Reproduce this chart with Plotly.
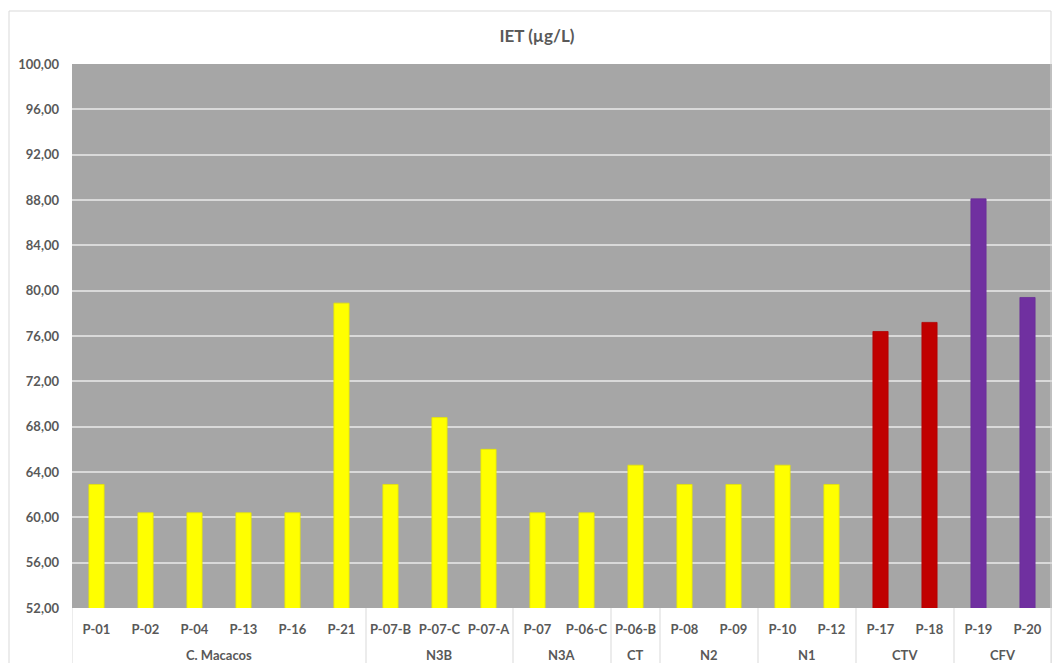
import plotly.graph_objects as go

groups = ["C. Macacos"] * 6 + ["N3B"] * 3 + ["N3A"] * 2 + ["CT"] + ["N2"] * 2 + ["N1"] * 2 + ["CTV"] * 2 + ["CFV"] * 2
points = ["P-01", "P-02", "P-04", "P-13", "P-16", "P-21",
          "P-07-B", "P-07-C", "P-07-A",
          "P-07", "P-06-C",
          "P-06-B",
          "P-08", "P-09",
          "P-10", "P-12",
          "P-17", "P-18",
          "P-19", "P-20"]
values = [62.9, 60.4, 60.4, 60.4, 60.4, 78.9,
          62.9, 68.8, 66.0,
          60.4, 60.4,
          64.6,
          62.9, 62.9,
          64.6, 62.9,
          76.4, 77.2,
          88.1, 79.4]
group_colors = {"CTV": "#C00000", "CFV": "#7030A0"}
default_color = "#FFFF00"
colors = [group_colors.get(g, default_color) for g in groups]
line_colors = [{"#FFFF00": "#E6E600", "#C00000": "#B00000", "#7030A0": "#6A2D98"}[c] for c in colors]

y_ticks = [52, 56, 60, 64, 68, 72, 76, 80, 84, 88, 92, 96, 100]

font_family = "Lato, 'Open Sans', sans-serif"
text_color = "#595959"

fig = go.Figure()
fig.add_trace(go.Bar(
    x=points,
    y=values,
    base=0,
    marker=dict(color=colors, line=dict(color=line_colors, width=0.8)),
    width=0.31,
    hoverinfo="x+y",
))

fig.update_layout(
    width=1052, height=663,
    margin=dict(l=72, r=0, t=64, b=55),
    paper_bgcolor="white",
    plot_bgcolor="#A6A6A6",
    separators=",.",
    showlegend=False,
    font=dict(family=font_family, color=text_color, size=13),
    title=dict(
        text="IET (µg/L)", x=537 / 1052, xref="container", xanchor="center",
        y=1 - 36 / 663, yref="container", yanchor="middle",
        font=dict(size=17, color=text_color, family=font_family, weight="bold"),
    ),
)

fig.update_yaxes(
    range=[52, 100], tickvals=y_ticks, tickformat=".2f",
    showgrid=True, gridcolor="#D9D9D9", gridwidth=1.5,
    zeroline=False, showline=False, ticks="",
    tickfont=dict(size=13, color=text_color, family=font_family, weight="bold"),
    ticklabelstandoff=12,
)
fig.update_xaxes(
    type="category", range=[-0.5, len(points) - 0.5],
    showgrid=False, showline=False, ticks="",
    tickfont=dict(size=13, color=text_color, family=font_family, weight="bold"),
    ticklabelstandoff=12,
)

# group labels and dividers derived from the group list
bounds = []
start = 0
for i in range(1, len(groups) + 1):
    if i == len(groups) or groups[i] != groups[start]:
        bounds.append((groups[start], start, i - 1))
        start = i

div_y = -(663 - 608) / 544
label_y = -(655 - 608) / 544
for name, s, e in bounds:
    fig.add_annotation(x=(s + e) / 2, xref="x", y=label_y, yref="paper",
                       text=name, showarrow=False, yanchor="middle",
                       font=dict(size=13, color=text_color, family=font_family, weight="bold"))
    fig.add_shape(type="line", xref="x", yref="paper", x0=s - 0.5, x1=s - 0.5,
                  y0=0, y1=div_y, line=dict(color="#D9D9D9", width=1))
fig.add_shape(type="line", xref="x", yref="paper", x0=len(points) - 0.5, x1=len(points) - 0.5,
              y0=0, y1=div_y, line=dict(color="#D9D9D9", width=1))

fig.add_shape(type="rect", xref="paper", yref="paper",
              x0=(9 - 72) / 980, x1=(1051 - 72) / 980,
              y0=-0.2, y1=(608 - 11) / 544,
              line=dict(color="#D9D9D9", width=1), fillcolor="rgba(0,0,0,0)", layer="below")

fig.write_html("out.html", config={"displayModeBar": False},
               post_script="document.body.style.margin='0';document.body.style.overflow='hidden';")
